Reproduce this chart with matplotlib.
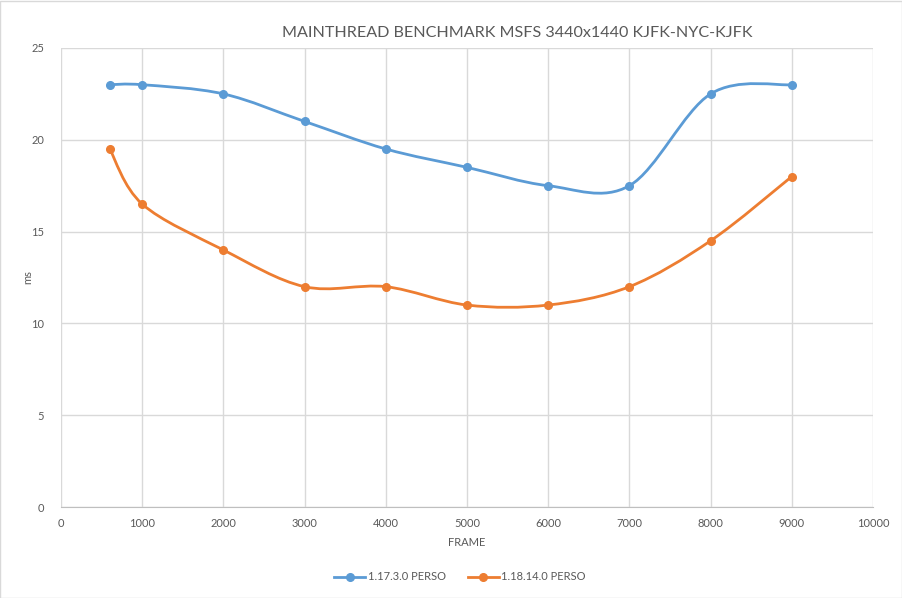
import numpy as np
import matplotlib.pyplot as plt
from matplotlib.path import Path
from matplotlib.patches import PathPatch, Rectangle
from matplotlib.lines import Line2D

plt.rcParams['font.family'] = ['Lato', 'DejaVu Sans']

frames = [600, 1000, 2000, 3000, 4000, 5000, 6000, 7000, 8000, 9000]
ms_1173 = [23, 23, 22.5, 21, 19.5, 18.5, 17.5, 17.5, 22.5, 23]
ms_11814 = [19.5, 16.5, 14, 12, 12, 11, 11, 12, 14.5, 18]
labels = ['1.17.3.0 PERSO', '1.18.14.0 PERSO']
colors = ['#5B9BD5', '#ED7D31']
text_col = '#595959'
grid_col = '#D9D9D9'


def smooth_path(x, y):
    # Excel-like smoothed line: cubic bezier, catmull-rom control points
    pts = np.column_stack([x, y]).astype(float)
    n = len(pts)
    verts = [pts[0]]
    codes = [Path.MOVETO]
    for i in range(n - 1):
        p0 = pts[i - 1] if i > 0 else pts[i]
        p1 = pts[i]
        p2 = pts[i + 1]
        p3 = pts[i + 2] if i + 2 < n else pts[i + 1]
        c1 = p1 + (p2 - p0) / 6
        c2 = p2 - (p3 - p1) / 6
        verts += [c1, c2, p2]
        codes += [Path.CURVE4] * 3
    return Path(verts, codes)


fig = plt.figure(figsize=(9.03, 5.98), dpi=100)
ax = fig.add_axes([61 / 903, 91 / 598, 812 / 903, 459 / 598])

for ys, c in zip([ms_1173, ms_11814], colors):
    ax.add_patch(PathPatch(smooth_path(frames, ys), facecolor='none',
                           edgecolor=c, lw=2, capstyle='round'))
    ax.plot(frames, ys, ls='none', marker='o', ms=5.5, color=c, zorder=3)

ax.set_xlim(0, 10000)
ax.set_ylim(0, 25)
ax.set_xticks(np.arange(0, 10001, 1000))
ax.set_yticks(np.arange(0, 26, 5))
ax.grid(True, color=grid_col, lw=1)
ax.set_axisbelow(True)
for s in ['top', 'right', 'left']:
    ax.spines[s].set_visible(False)
ax.spines['bottom'].set_color('#BFBFBF')
ax.tick_params(length=0, labelsize=8, colors=text_col, pad=8)
ax.tick_params(axis='y', pad=12)

ax.set_xlabel('FRAME', fontsize=8, color=text_col)
ax.set_ylabel('ms', fontsize=8, color=text_col)
ax.xaxis.set_label_coords(0.5, -(543 - 507) / 459)
ax.yaxis.set_label_coords((28 - 61) / 812, (507 - 277) / 459)
ax.xaxis.label.set_va('center')
ax.yaxis.label.set_va('center')

fig.text(517 / 903, 1 - 33 / 598, 'MAINTHREAD BENCHMARK MSFS 3440x1440 KJFK-NYC-KJFK',
         ha='center', va='center', fontsize=11.6, color=text_col)

handles = [Line2D([], [], color=c, lw=2, marker='o', ms=5.5) for c in colors]
fig.legend(handles, labels, loc='center', bbox_to_anchor=(460 / 903, 1 - 577 / 598),
           ncol=2, frameon=False, fontsize=8, labelcolor=text_col,
           handlelength=2.8, handletextpad=0.2, columnspacing=2)

fig.patches.append(Rectangle((0.5 / 903, 0.5 / 598), 1 - 1.5 / 903, 1 - 1.5 / 598,
                             transform=fig.transFigure, fill=False,
                             edgecolor='#D9D9D9', lw=1))

fig.savefig('out.png', dpi=100)
